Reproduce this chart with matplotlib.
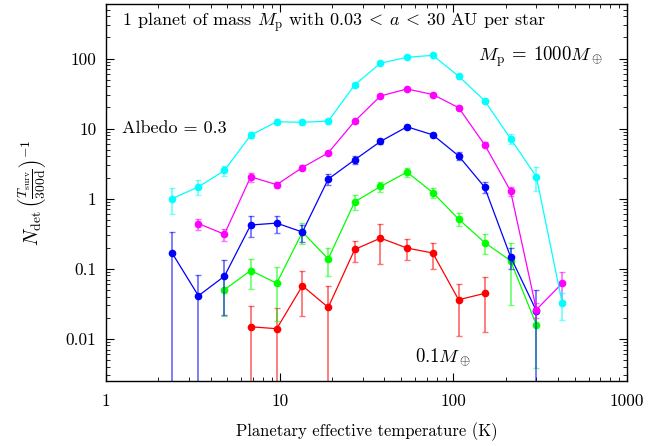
import numpy as np
import matplotlib
matplotlib.use('Agg')
import matplotlib.pyplot as plt
from matplotlib.ticker import FuncFormatter, LogLocator, NullFormatter

plt.rcParams['font.family'] = 'serif'
plt.rcParams['font.serif'] = ['cmr10']
plt.rcParams['mathtext.fontset'] = 'cm'
plt.rcParams['axes.formatter.use_mathtext'] = True

# bin temperatures (K)
temps = [2.4, 3.4, 4.8, 6.8, 9.6, 13.5, 19, 27, 38, 54, 76, 107, 151, 213, 300, 423]

# 1000 M_earth (cyan), starts at bin 0
cyan_y = [1.0, 1.47, 2.52, 8.05, 12.5, 12.3, 12.75, 42, 86, 104, 111, 56, 25, 7.2, 2.05, 0.032]
cyan_err = [0.4, 0.35, 0.45, 0.8, 1.0, 1.0, 1.1, 2.0, 3.0, 3.2, 3.3, 2.3, 1.6, 1.1, 0.75, 0.0135]
# magenta, starts at bin 1
mag_y = [0.44, 0.31, 2.05, 1.58, 2.78, 4.5, 12.75, 29.2, 36.8, 30.6, 19.9, 5.9, 1.29, 0.026, 0.062]
mag_err = [0.08, 0.06, 0.3, 0.15, 0.2, 0.3, 0.6, 1.2, 1.4, 1.2, 1.0, 0.5, 0.19, 0.006, 0.027]
# blue, starts at bin 0
blue_y = [0.167, 0.041, 0.078, 0.42, 0.447, 0.333, 1.9, 3.58, 6.55, 10.6, 8.13, 4.08, 1.46, 0.148, 0.025]
blue_err = [0.167, 0.039, 0.056, 0.14, 0.12, 0.09, 0.32, 0.45, 0.5, 0.6, 0.55, 0.5, 0.24, 0.05, 0.025]
# green, starts at bin 2
green_y = [0.05, 0.094, 0.062, 0.333, 0.138, 0.9, 1.49, 2.39, 1.22, 0.51, 0.236, 0.13, 0.0158]
green_err = [0.029, 0.043, 0.044, 0.11, 0.059, 0.21, 0.25, 0.35, 0.2, 0.11, 0.074, 0.1, 0.012]
# 0.1 M_earth (red), starts at bin 3
red_y = [0.0148, 0.0139, 0.057, 0.028, 0.188, 0.273, 0.197, 0.167, 0.036, 0.0443]
red_err = [0.0148, 0.0139, 0.036, 0.028, 0.063, 0.155, 0.066, 0.067, 0.025, 0.032]

series = [
    (red_y, red_err, 3, '#ff0000'),
    (green_y, green_err, 2, '#00ff00'),
    (blue_y, blue_err, 0, '#0000ff'),
    (mag_y, mag_err, 1, '#ff00ff'),
    (cyan_y, cyan_err, 0, '#00ffff'),
]

fig = plt.figure(figsize=(6.63, 4.46), dpi=100)
ax = fig.add_axes([0.16, 0.146, 0.786, 0.845])

for y, err, start, col in series:
    x = temps[start:start + len(y)]
    ax.errorbar(x, y, yerr=err, fmt='none', ecolor=col, alpha=0.55,
                elinewidth=1.3, capsize=2.5, capthick=1.0)
    ax.plot(x, y, '-o', color=col, lw=0.9, ms=4.5, mec=col)

ax.set_xscale('log')
ax.set_yscale('log')
ax.set_xlim(1, 1000)
ax.set_ylim(0.0025, 600)

fmt = FuncFormatter(lambda v, p: '%g' % v)
ax.xaxis.set_major_formatter(fmt)
ax.yaxis.set_major_formatter(fmt)
ax.xaxis.set_minor_locator(LogLocator(subs=np.arange(2, 10)))
ax.yaxis.set_minor_locator(LogLocator(subs=np.arange(2, 10)))
ax.xaxis.set_minor_formatter(NullFormatter())
ax.yaxis.set_minor_formatter(NullFormatter())
ax.tick_params(which='both', direction='in', top=True, right=True, labelsize=12.5)
ax.tick_params(axis='x', pad=9)
ax.tick_params(axis='y', pad=7)
ax.tick_params(which='major', length=6, width=0.8)
ax.tick_params(which='minor', length=3, width=0.6)
for s in ax.spines.values():
    s.set_linewidth(1.0)

ax.set_xlabel('Planetary effective temperature (K)', fontsize=12, labelpad=10)
ax.set_ylabel(r'$N_{\rm det}\,\left(\frac{T_{\rm surv}}{300{\rm d}}\right)^{-1}$',
              fontsize=14, labelpad=13)

ax.text(0.031, 0.952,
        r'1 planet of mass $M_{\rm p}$ with $0.03\:<\:a\:<\:30$ AU per star',
        transform=ax.transAxes, fontsize=13, va='center', ha='left')
ax.text(0.031, 0.671, 'Albedo = 0.3', transform=ax.transAxes,
        fontsize=13, va='center', ha='left')
ax.text(0.952, 0.859, r'$M_{\rm p}\:=\:1000M_\oplus$', transform=ax.transAxes,
        fontsize=13.5, va='center', ha='right')
ax.text(0.593, 0.061, r'$0.1M_\oplus$', transform=ax.transAxes,
        fontsize=13.5, va='center', ha='left')

fig.savefig('out.png', dpi=100)
